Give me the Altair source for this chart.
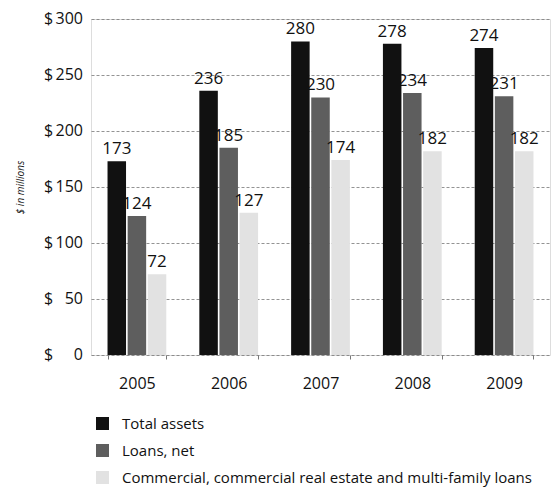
import altair as alt
import pandas as pd

years = ["2005", "2006", "2007", "2008", "2009"]
series = ["Total assets", "Loans, net",
          "Commercial, commercial real estate and multi-family loans"]
total_assets = [173, 236, 280, 278, 274]
loans_net = [124, 185, 230, 234, 231]
commercial = [72, 127, 174, 182, 182]
y_ticks = [0, 50, 100, 150, 200, 250, 300]

rows = []
for i, y in enumerate(years):
    for s, vals in zip(series, [total_assets, loans_net, commercial]):
        rows.append({"year": y, "series": s, "value": vals[i]})
df = pd.DataFrame(rows)
tick_df = pd.DataFrame({"value": y_ticks,
                        "sym": ["$"] * len(y_ticks),
                        "num": [str(v) for v in y_ticks]})

FONT = "Open Sans"

base = alt.Chart(df).encode(
    x=alt.X("year:N", sort=years,
            scale=alt.Scale(paddingInner=0.36, paddingOuter=0.18),
            axis=alt.Axis(title=None, labelAngle=0, labelFontSize=16,
                          labelPadding=16, labelColor="#111", labelFont=FONT,
                          domain=False, ticks=True, tickSize=4, tickColor="#777",
                          tickBand="extent", grid=False)),
    xOffset=alt.XOffset("series:N", sort=series,
                        scale=alt.Scale(paddingInner=0.08)),
    y=alt.Y("value:Q",
            scale=alt.Scale(domain=[0, 300], nice=False),
            axis=alt.Axis(values=y_ticks, title="$ in millions",
                          titleFontSize=10, titleFontWeight="normal",
                          titleFontStyle="italic", titleFont=FONT,
                          titleColor="#111", titleX=-66, titleY=168,
                          titleAngle=-90, titleAlign="center",
                          labels=False, ticks=False, domain=False,
                          grid=True, gridColor="#777", gridDash=[3, 2],
                          gridWidth=0.8)),
)

bars = base.mark_bar().encode(
    color=alt.Color("series:N", sort=series,
                    scale=alt.Scale(domain=series,
                                    range=["#111111", "#5e5e5e", "#e2e2e2"]),
                    legend=alt.Legend(title=None, orient="none", legendX=4,
                                      legendY=397, direction="vertical",
                                      symbolType="square", symbolSize=170,
                                      symbolStrokeWidth=0, labelFontSize=15,
                                      labelFont=FONT, labelColor="#111",
                                      rowPadding=11, labelOffset=12,
                                      labelLimit=600))
)

labels = base.mark_text(baseline="bottom", dy=-3, fontSize=17, font=FONT,
                        color="#111").encode(text="value:Q")

dollars = alt.Chart(tick_df).mark_text(
    align="left", baseline="middle", fontSize=16, font=FONT, color="#111"
).encode(x=alt.value(-47), y=alt.Y("value:Q"), text="sym:N")

nums = alt.Chart(tick_df).mark_text(
    align="right", baseline="middle", fontSize=16, font=FONT, color="#111"
).encode(x=alt.value(-8), y=alt.Y("value:Q"), text="num:N")

chart = (bars + labels + dollars + nums).properties(
    width=459, height=336,
    autosize=alt.AutoSizeParams(type="none"),
    padding={"left": 91, "top": 19, "right": 10, "bottom": 138},
).configure_view(stroke="#777", strokeDash=[3, 2], strokeWidth=0.8
).configure(background="white")

chart.save("out.html", embed_options={"renderer": "svg", "actions": False})
